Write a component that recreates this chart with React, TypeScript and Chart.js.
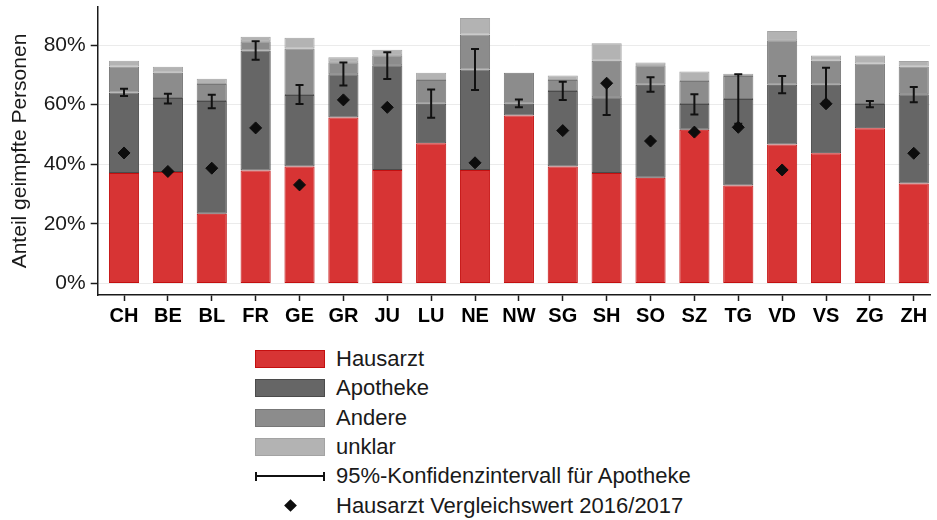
import React, { useEffect, useRef } from "react";
import { Chart, registerables } from "chart.js";

Chart.register(...registerables);

const FONT = "'Liberation Sans', Arial, Helvetica, sans-serif";
Chart.defaults.font.family = FONT;

// ---- data ----
const cantons = ["CH", "BE", "BL", "FR", "GE", "GR", "JU", "LU", "NE", "NW", "SG", "SH", "SO", "SZ", "TG", "VD", "VS", "ZG", "ZH"];
const hausarzt = [37.1, 37.4, 23.4, 37.9, 39.3, 55.7, 38.1, 47.1, 38.1, 56.4, 39.3, 37.1, 35.5, 51.6, 32.9, 46.6, 43.7, 52.1, 33.6];
const apotheke = [27.0, 24.8, 37.8, 40.3, 23.9, 14.5, 35.1, 13.2, 33.7, 3.9, 25.3, 25.4, 31.2, 8.6, 29.0, 20.1, 23.0, 8.1, 29.9];
const andere = [8.7, 8.5, 5.7, 3.1, 15.6, 4.0, 3.4, 8.0, 11.7, 10.4, 3.7, 12.2, 6.5, 7.7, 7.7, 14.9, 8.0, 13.6, 9.3];
const unklar = [1.9, 2.0, 1.8, 1.5, 3.6, 1.7, 1.8, 2.4, 5.6, 0, 1.5, 5.9, 0.9, 3.2, 0.8, 3.1, 1.8, 2.7, 1.8];
const ciLow = [62.9, 60.4, 58.8, 75.1, 60.2, 66.4, 68.6, 55.6, 64.9, 59.1, 61.6, 56.5, 64.3, 56.7, 53.6, 63.8, 61.0, 59.1, 60.8];
const ciHigh = [65.3, 63.7, 63.3, 81.3, 66.6, 74.1, 77.6, 65.1, 78.7, 61.7, 67.7, 66.9, 69.2, 63.5, 70.2, 69.6, 72.4, 61.2, 65.9];
const vergleich: (number | null)[] = [43.8, 37.6, 38.7, 52.2, 33.1, 61.6, 59.1, null, 40.5, null, 51.3, 67.2, 47.8, 50.8, 52.4, 38.1, 60.3, null, 43.7];
const yTickValues = [0, 20, 40, 60, 80];

const seriesLabels = ["Hausarzt", "Apotheke", "Andere", "unklar"];
const ciLabel = "95%-Konfidenzintervall für Apotheke";
const refLabel = "Hausarzt Vergleichswert 2016/2017";

// ---- styles ----
const fills = ["#d73434", "#666666", "#8c8c8c", "#b3b3b3"];
const borders = ["#c40f0f", "#4b4b4b", "#777777", "#a3a3a3"];
const INK = "#111111";
const TEXT = "#1a1a1a";

function ChartCanvas() {
  const ref = useRef<HTMLCanvasElement | null>(null);
  useEffect(() => {
    if (!ref.current) return;
    const values = [hausarzt, apotheke, andere, unklar];
    const barSets = values.map((arr, k) => ({
      type: "bar" as const,
      label: seriesLabels[k],
      data: arr.map((v, i) => ({ x: i, y: v })),
      backgroundColor: fills[k],
      borderColor: borders[k],
      borderWidth: 1,
      borderSkipped: false,
      stack: "anteil",
      order: 2,
      categoryPercentage: 1,
      barPercentage: 0.687,
    }));
    const ciData = cantons.flatMap((_, i) => [
      { x: i, y: ciLow[i] },
      { x: i, y: ciHigh[i] },
      { x: i, y: null },
    ]);
    const refData = vergleich
      .map((v, i) => (v === null ? null : { x: i, y: v }))
      .filter((p) => p !== null);

    const chart = new Chart(ref.current, {
      type: "bar",
      data: {
        datasets: [
          ...barSets,
          {
            type: "line" as const,
            label: ciLabel,
            data: ciData as any,
            borderColor: INK,
            borderWidth: 2,
            pointStyle: "line",
            pointRadius: 4,
            pointBorderWidth: 2,
            pointBorderColor: INK,
            pointBackgroundColor: INK,
            spanGaps: false,
            fill: false,
            order: 1,
          },
          {
            type: "scatter" as const,
            label: refLabel,
            data: refData as any,
            pointStyle: "rectRot",
            pointRadius: 6,
            backgroundColor: "#0d0d0d",
            borderColor: "#0d0d0d",
            borderWidth: 1,
            showLine: false,
            order: 0,
          },
        ] as any,
      },
      options: {
        responsive: false,
        animation: false,
        devicePixelRatio: 1,
        layout: { padding: { top: 5, left: 0, right: 0, bottom: 0 } },
        plugins: { legend: { display: false }, tooltip: { enabled: false } },
        scales: {
          x: {
            type: "linear",
            offset: false,
            min: -0.6,
            max: 18.37,
            afterBuildTicks: (s: any) => {
              s.ticks = cantons.map((_, i) => ({ value: i }));
            },
            afterFit: (s: any) => {
              s.height = 45;
              s.paddingLeft = 0;
              s.paddingRight = 0;
            },
            ticks: {
              autoSkip: false,
              maxRotation: 0,
              minRotation: 0,
              padding: 3,
              color: "#000",
              font: { size: 20, weight: "bold" },
              callback: (v: any) => cantons[v] ?? "",
            },
            grid: {
              offset: false,
              drawOnChartArea: false,
              drawTicks: true,
              tickLength: 6,
              tickColor: TEXT,
              tickWidth: 1.5,
            },
            border: { display: true, color: TEXT, width: 1.5 },
          },
          y: {
            type: "linear",
            min: -3.83,
            max: 92.75,
            afterBuildTicks: (s: any) => {
              s.ticks = yTickValues.map((v) => ({ value: v }));
            },
            afterFit: (s: any) => {
              s.width = 97.7;
              s.paddingTop = 0;
              s.paddingBottom = 0;
            },
            ticks: {
              padding: 5,
              color: TEXT,
              font: { size: 21 },
              callback: (v: any) => v + "%",
            },
            grid: {
              color: "#ebebeb",
              lineWidth: 1,
              drawTicks: true,
              tickLength: 7,
              tickColor: TEXT,
              tickWidth: 1.5,
            },
            border: { display: true, color: TEXT, width: 1.5 },
            title: {
              display: true,
              text: "Anteil geimpfte Personen",
              color: TEXT,
              font: { size: 21 },
              padding: { top: 8, bottom: 0 },
            },
          },
        },
      } as any,
    });
    return () => chart.destroy();
  }, []);
  return <canvas ref={ref} width={937} height={340} style={{ display: "block", width: 937, height: 340 }} />;
}

function LegendRow({ index, children, label }: { index: number; children: React.ReactNode; label: string }) {
  const center = 359 + index * 29.3;
  return (
    <div style={{ position: "absolute", left: 0, top: center - 15, height: 30, width: 937 }}>
      <div style={{ position: "absolute", left: 255, top: 0, width: 70, height: 30, display: "flex", alignItems: "center", justifyContent: "center" }}>
        {children}
      </div>
      <div style={{ position: "absolute", left: 336, top: 0, height: 30, display: "flex", alignItems: "center", fontFamily: FONT, fontSize: 22, color: TEXT, whiteSpace: "nowrap", lineHeight: 1 }}>
        {label}
      </div>
    </div>
  );
}

export default function App() {
  return (
    <div style={{ position: "fixed", left: 0, top: 0, width: 937, height: 520, background: "#fff", overflow: "hidden" }}>
      <ChartCanvas />
      {seriesLabels.map((lab, k) => (
        <LegendRow key={lab} index={k} label={lab}>
          <div style={{ width: 70, height: 18, boxSizing: "border-box", background: fills[k], border: `1px solid ${borders[k]}` }} />
        </LegendRow>
      ))}
      <LegendRow index={4} label={ciLabel}>
        <div style={{ position: "relative", width: 70, height: 9 }}>
          <div style={{ position: "absolute", left: 0, top: 3.5, width: 70, height: 2, background: INK }} />
          <div style={{ position: "absolute", left: 0, top: 0, width: 2, height: 9, background: INK }} />
          <div style={{ position: "absolute", right: 0, top: 0, width: 2, height: 9, background: INK }} />
        </div>
      </LegendRow>
      <LegendRow index={5} label={refLabel}>
        <div style={{ width: 9, height: 9, background: "#0d0d0d", transform: "rotate(45deg)" }} />
      </LegendRow>
    </div>
  );
}
